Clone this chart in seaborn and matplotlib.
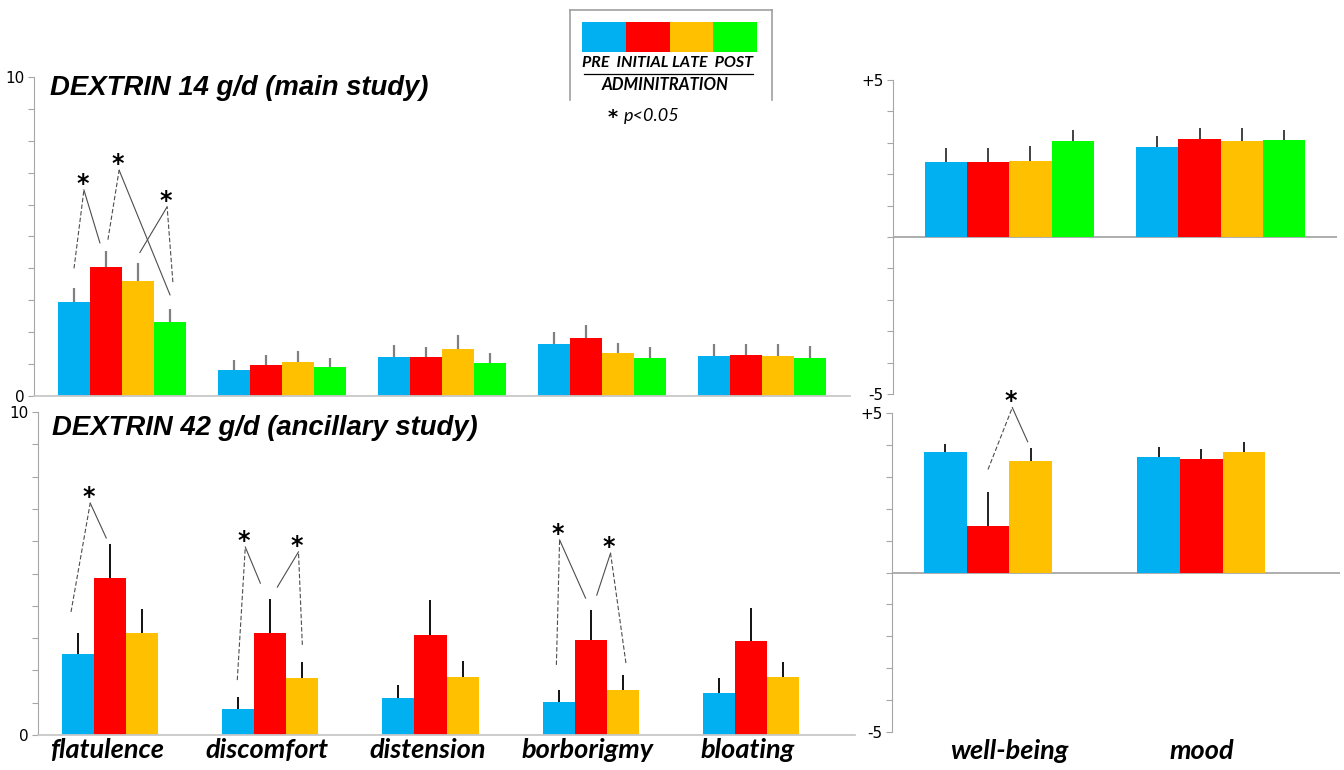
import numpy as np
import pandas as pd
import matplotlib
matplotlib.use("Agg")
import matplotlib.pyplot as plt
import seaborn as sns

# ---- categories -----------------------------------------------------------
PHASES = ["PRE", "INITIAL", "LATE", "POST"]
PHASE_COLORS = ["#00B0F0", "#FF0000", "#FFC000", "#00FF00"]
GI_SYMPTOMS = ["flatulence", "discomfort", "distension", "borborigmy", "bloating"]
GENERAL = ["well-being", "mood"]

# ---- dextrin 14 g/d (main study): GI symptom scores, mean and SEM ----------
main_gi = {
    "PRE":     [2.95, 0.82, 1.21, 1.62, 1.26],
    "INITIAL": [4.03, 0.97, 1.21, 1.81, 1.29],
    "LATE":    [3.61, 1.08, 1.48, 1.35, 1.26],
    "POST":    [2.33, 0.90, 1.02, 1.18, 1.18],
}
main_gi_sem = {
    "PRE":     [0.45, 0.31, 0.38, 0.38, 0.38],
    "INITIAL": [0.52, 0.31, 0.32, 0.41, 0.35],
    "LATE":    [0.57, 0.32, 0.43, 0.32, 0.38],
    "POST":    [0.40, 0.28, 0.33, 0.36, 0.38],
}
# ---- dextrin 14 g/d (main study): well-being / mood -------------------------
main_gen = {
    "PRE":     [2.38, 2.86],
    "INITIAL": [2.38, 3.11],
    "LATE":    [2.42, 3.05],
    "POST":    [3.05, 3.08],
}
main_gen_sem = {
    "PRE":     [0.46, 0.36],
    "INITIAL": [0.44, 0.36],
    "LATE":    [0.48, 0.41],
    "POST":    [0.37, 0.32],
}

# ---- dextrin 42 g/d (ancillary study) ---------------------------------------
anc_gi = {
    "PRE":     [2.51, 0.79, 1.15, 1.01, 1.31],
    "INITIAL": [4.85, 3.16, 3.11, 2.94, 2.90],
    "LATE":    [3.16, 1.76, 1.80, 1.40, 1.80],
}
anc_gi_sem = {
    "PRE":     [0.66, 0.39, 0.40, 0.38, 0.45],
    "INITIAL": [1.05, 1.05, 1.07, 0.93, 1.02],
    "LATE":    [0.73, 0.51, 0.50, 0.45, 0.45],
}
anc_gen = {
    "PRE":     [3.77, 3.61],
    "INITIAL": [1.46, 3.57],
    "LATE":    [3.48, 3.77],
}
anc_gen_sem = {
    "PRE":     [0.27, 0.31],
    "INITIAL": [1.05, 0.30],
    "LATE":    [0.42, 0.31],
}

# significance brackets: (item index, slot a, y a, apex slot, apex y, slot b, y b, style a, style b)
main_gi_sig = [
    (0, 0.00, 4.00, 0.31, 6.46, 0.81, 4.80, "--", "-"),
    (0, 1.06, 4.90, 1.41, 7.08, 3.00, 3.17, "--", "-"),
    (0, 2.06, 4.50, 2.91, 5.93, 3.09, 3.57, "-", "--"),
]
anc_gi_sig = [
    (0, -0.22, 3.81, 0.38, 7.18, 0.88, 6.10, "--", "-"),
    (1, -0.03, 1.70, 0.22, 5.82, 0.69, 4.70, "--", "-"),
    (1, 1.22, 4.58, 1.88, 5.67, 2.00, 2.79, "-", "--"),
    (3, -0.07, 2.17, 0.03, 6.04, 0.84, 4.24, "--", "-"),
    (3, 1.19, 4.33, 1.62, 5.63, 2.10, 2.23, "-", "--"),
]
anc_gen_sig = [
    (0, 1.00, 3.23, 1.57, 5.17, 1.93, 4.10, "--", "-"),
]

LABEL_FONT = ["Lato", "DejaVu Sans"]
TITLE_FONT = ["Liberation Sans", "DejaVu Sans"]
AXIS_GRAY = "#a6a6a6"


def long_frame(items, means, sems):
    rows = []
    for phase in PHASES:
        if phase not in means:
            continue
        for item, m, s in zip(items, means[phase], sems[phase]):
            rows.append({"item": item, "phase": phase, "score": m, "sem": s})
    return pd.DataFrame(rows)


def draw_panel(ax, items, means, sems, err_color, err_lw):
    df = long_frame(items, means, sems)
    sns.barplot(data=df, x="item", y="score", hue="phase", order=items,
                hue_order=PHASES, palette=dict(zip(PHASES, PHASE_COLORS)),
                width=0.8, saturation=1, linewidth=0, errorbar=None,
                legend=False, ax=ax)
    present = [p for p in PHASES if p in means]
    for phase, cont in zip(present, ax.containers):
        sub = df[df["phase"] == phase].set_index("item").loc[items]
        xs = [b.get_x() + b.get_width() / 2 for b in cont]
        ys = [b.get_height() for b in cont]
        ax.errorbar(xs, ys, yerr=[np.zeros(len(ys)), sub["sem"].values],
                    fmt="none", ecolor=err_color, elinewidth=err_lw,
                    capsize=0, zorder=3)
    ax.set_xlabel("")
    ax.set_ylabel("")
    return df


def slot_x(item_idx, slot):
    return item_idx + (slot - 1.5) * 0.2


def draw_sig(ax, specs):
    for (i, sa, ya, sp, yp, sb, yb, st_a, st_b) in specs:
        xa, xp, xb = slot_x(i, sa), slot_x(i, sp), slot_x(i, sb)
        for (x0, y0, st) in ((xa, ya, st_a), (xb, yb, st_b)):
            ls = (0, (4, 2)) if st == "--" else "-"
            ax.plot([x0, xp], [y0, yp], color="#4d4d4d", lw=0.8,
                    linestyle=ls, clip_on=False, zorder=4)
        ax.annotate("*", (xp, yp), xytext=(-1, 4.5), textcoords="offset points",
                    ha="center", va="center", fontsize=17, fontweight="bold",
                    family=["DejaVu Sans"], annotation_clip=False)


def style_left(ax, title, title_xy):
    ax.set_xlim(-0.55, 4.55)
    ax.set_ylim(0, 10)
    for s in ("top", "right"):
        ax.spines[s].set_visible(False)
    ax.spines["left"].set_color(AXIS_GRAY)
    ax.spines["bottom"].set_color("#c8c8c8")
    ax.spines["bottom"].set_linewidth(1.3)
    ax.set_yticks(range(0, 11))
    ax.set_yticklabels(["0"] + [""] * 9 + ["10"])
    ax.tick_params(axis="y", length=4, color=AXIS_GRAY, labelsize=11, pad=3)
    ax.text(title_xy[0], title_xy[1], title, transform=ax.transAxes,
            ha="left", va="center", fontsize=19.8, fontweight="bold",
            fontstyle="italic", family=TITLE_FONT)


def style_right(ax):
    ax.set_xlim(-0.55, 1.55)
    ax.set_ylim(-5, 5)
    for s in ("top", "right", "bottom"):
        ax.spines[s].set_visible(False)
    ax.spines["left"].set_color(AXIS_GRAY)
    ax.axhline(0, color="#a0a0a0", lw=1.2, zorder=0)
    ax.set_yticks(range(-5, 6))
    ax.set_yticklabels(["-5"] + [""] * 9 + ["+5"])
    ax.tick_params(axis="y", length=4, color=AXIS_GRAY, labelsize=11, pad=3)


fig = plt.figure(figsize=(13.44, 7.70), dpi=100)
W, H = 1344.0, 770.0


def px_axes(x0, y_top, x1, y_bot):
    return fig.add_axes([x0 / W, 1 - y_bot / H, (x1 - x0) / W, (y_bot - y_top) / H])


ax_tl = px_axes(34, 77, 850, 396)
ax_bl = px_axes(38, 412, 855, 735)
ax_tr = px_axes(893, 80, 1337, 394)
ax_br = px_axes(892, 413, 1340, 732)

# GI symptoms
draw_panel(ax_tl, GI_SYMPTOMS, main_gi, main_gi_sem, "#808080", 1.6)
style_left(ax_tl, "DEXTRIN 14 g/d (main study)", (0.02, 0.966))
ax_tl.set_xticks([])
draw_sig(ax_tl, main_gi_sig)

draw_panel(ax_bl, GI_SYMPTOMS, anc_gi, anc_gi_sem, "#111111", 1.4)
style_left(ax_bl, "DEXTRIN 42 g/d (ancillary study)", (0.017, 0.950))
ax_bl.set_xticks(np.arange(len(GI_SYMPTOMS)) - 0.12)
ax_bl.set_xticklabels(GI_SYMPTOMS, fontsize=19.5, fontweight="bold",
                      fontstyle="italic", family=LABEL_FONT)
ax_bl.tick_params(axis="x", length=0, pad=2)
draw_sig(ax_bl, anc_gi_sig)

# well-being / mood
draw_panel(ax_tr, GENERAL, main_gen, main_gen_sem, "#333333", 1.3)
style_right(ax_tr)
ax_tr.set_xticks([])

draw_panel(ax_br, GENERAL, anc_gen, anc_gen_sem, "#111111", 1.3)
style_right(ax_br)
ax_br.set_xticks(np.arange(len(GENERAL)) + np.array([0.0, -0.1]))
ax_br.set_xticklabels(GENERAL, fontsize=19.5, fontweight="bold",
                      fontstyle="italic", family=LABEL_FONT)
ax_br.tick_params(axis="x", length=0, pad=5)
draw_sig(ax_br, anc_gen_sig)

# phase key
lg = px_axes(570, 10, 772, 100)
lg.set_xlim(0, 202)
lg.set_ylim(90, 0)
lg.set_xticks([])
lg.set_yticks([])
lg.spines["bottom"].set_visible(False)
for s in ("left", "top", "right"):
    lg.spines[s].set_color("#a0a0a0")
    lg.spines[s].set_linewidth(1.2)
sw = 175 / len(PHASES)
lg.bar([12 + sw * (k + 0.5) for k in range(len(PHASES))], [30] * len(PHASES),
       width=sw, bottom=12, color=PHASE_COLORS, linewidth=0)
lg.text(97, 53, "PRE  INITIAL LATE  POST", ha="center", va="center",
        fontsize=11.5, fontweight="bold", fontstyle="italic", family=LABEL_FONT)
lg.plot([14, 183], [64, 64], color="black", lw=0.9)
lg.text(95, 75, "ADMINITRATION", ha="center", va="center",
        fontsize=12, fontweight="bold", fontstyle="italic", family=LABEL_FONT)

fig.text(613 / W, 1 - 117 / H, "*", ha="center", va="center", fontsize=14,
         fontweight="bold", family=["DejaVu Sans"])
fig.text(624 / W, 1 - 116 / H, "p<0.05", ha="left", va="center", fontsize=13,
         fontstyle="italic", family=LABEL_FONT)

fig.savefig("out.png", dpi=100, facecolor="white")
